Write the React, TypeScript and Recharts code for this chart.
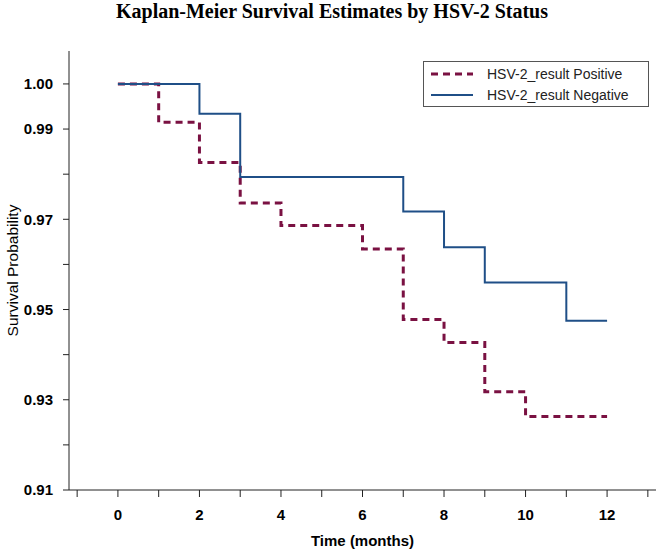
import { LineChart, Line, XAxis, YAxis, Legend } from 'recharts';

// Kaplan-Meier estimates (time in months)
const posTime = [0, 1, 2, 3, 4, 6, 7, 8, 9, 10, 12];
const posSurv = [1, 0.9915, 0.9826, 0.9736, 0.9686, 0.9634, 0.9478, 0.9427, 0.9318, 0.9263, 0.9263];
const negTime = [0, 2, 3, 7, 8, 9, 11, 12];
const negSurv = [1, 0.9934, 0.9794, 0.9717, 0.9638, 0.956, 0.9475, 0.9475];

const seriesNames = ['HSV-2_result Positive', 'HSV-2_result Negative'];
const seriesColors = ['#7a1142', '#1f4f87'];
const seriesDash = ['7 5', undefined];

const xTicks = [-1, 0, 1, 2, 3, 4, 5, 6, 7, 8, 9, 10, 11, 12, 13];
const xLabeled = [0, 2, 4, 6, 8, 10, 12];
const yTicks = [0.91, 0.92, 0.93, 0.94, 0.95, 0.96, 0.97, 0.98, 0.99, 1.0];
const yLabeled = [0.91, 0.93, 0.95, 0.97, 0.99, 1.0];

const posData = posTime.map((t, i) => ({ time: t, surv: posSurv[i] }));
const negData = negTime.map((t, i) => ({ time: t, surv: negSurv[i] }));

const sans = 'Arial, "Liberation Sans", sans-serif';
const tickStyle = { fill: '#000', fontSize: 15, fontWeight: 'bold', fontFamily: sans };

function LegendBox() {
  return (
    <div style={{ border: '1px solid #555', background: '#fff', padding: '1px 6px 1px 6px', fontFamily: sans, fontSize: 14, color: '#222' }}>
      {seriesNames.map((name, i) => (
        <div key={name} style={{ display: 'flex', alignItems: 'center', height: 21 }}>
          <svg width={44} height={10} style={{ marginRight: 13 }}>
            <line x1={1} y1={5} x2={43} y2={5} stroke={seriesColors[i]} strokeWidth={i === 0 ? 3 : 2} strokeDasharray={seriesDash[i]} />
          </svg>
          <span>{name}</span>
        </div>
      ))}
    </div>
  );
}

export default function App() {
  return (
    <div style={{ position: 'relative', width: 664, height: 551, background: '#fff' }}>
      <style>{'body{margin:0}'}</style>
      <div style={{ position: 'absolute', top: 0, left: 0, width: 664, textAlign: 'center', fontFamily: '"Times New Roman", "Liberation Serif", serif', fontWeight: 'bold', fontSize: 20, color: '#000' }}>
        Kaplan-Meier Survival Estimates by HSV-2 Status
      </div>
      <LineChart width={664} height={551} margin={{ top: 51, right: 8, left: 9, bottom: 2 }}>
        <XAxis
          dataKey="time"
          type="number"
          domain={[-1.2, 13.2]}
          ticks={xTicks}
          allowDataOverflow
          tickFormatter={(v: number) => (xLabeled.includes(v) ? String(v) : '')}
          tick={tickStyle}
          tickSize={7}
          tickMargin={12}
          height={59}
          stroke="#222"
          label={{ value: 'Time (months)', position: 'insideBottom', offset: 3, fill: '#000', fontSize: 15, fontWeight: 'bold', fontFamily: sans }}
        />
        <XAxis xAxisId="top" orientation="top" type="number" domain={[-1.2, 13.2]} height={0} tick={false} tickLine={false} stroke="#888" />
        <YAxis
          type="number"
          domain={[0.91, 1.0073]}
          ticks={yTicks}
          allowDataOverflow
          tickFormatter={(v: number) => (yLabeled.includes(v) ? v.toFixed(2) : '')}
          tick={tickStyle}
          tickSize={6}
          tickMargin={10}
          width={60}
          stroke="#222"
          label={{ value: 'Survival Probability', angle: -90, position: 'insideLeft', offset: 3, fill: '#000', fontSize: 15.5, fontFamily: sans, style: { textAnchor: 'middle' } }}
        />
        <YAxis yAxisId="right" orientation="right" type="number" domain={[0.91, 1.0073]} width={0} tick={false} tickLine={false} stroke="#888" />
        <Legend
          layout="vertical"
          align="center"
          verticalAlign="middle"
          content={() => <LegendBox />}
          wrapperStyle={{ top: 61, left: 423, width: 226, height: 'auto' }}
        />
        <Line
          data={posData}
          dataKey="surv"
          name={seriesNames[0]}
          type="stepAfter"
          stroke={seriesColors[0]}
          strokeWidth={3}
          strokeDasharray={seriesDash[0]}
          dot={false}
          isAnimationActive={false}
        />
        <Line
          data={negData}
          dataKey="surv"
          name={seriesNames[1]}
          type="stepAfter"
          stroke={seriesColors[1]}
          strokeWidth={2}
          dot={false}
          isAnimationActive={false}
        />
      </LineChart>
    </div>
  );
}
